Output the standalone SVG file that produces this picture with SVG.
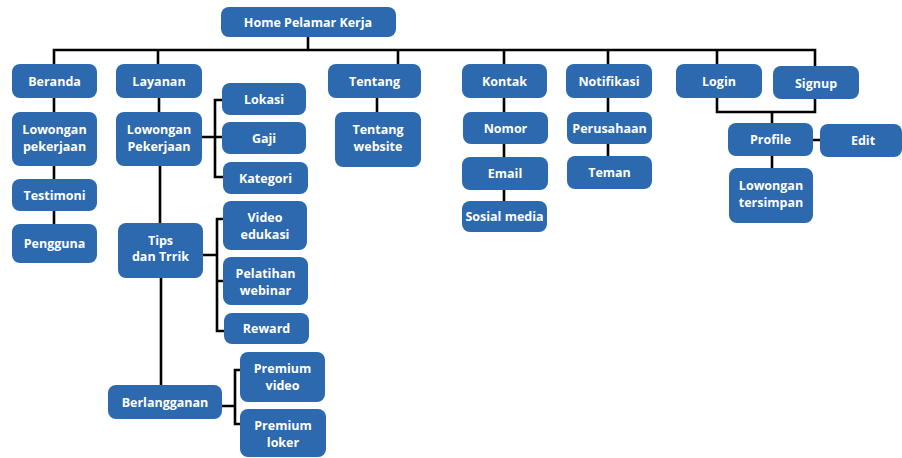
<svg xmlns="http://www.w3.org/2000/svg" width="902" height="458" viewBox="0 0 902 458">
<style>
.n rect{fill:#2c69ae;rx:8;ry:8}
.n text{fill:#fff;font-family:"Open Sans","Liberation Sans",sans-serif;font-weight:700;font-size:12.5px;text-anchor:middle}
#edges path{fill:none;stroke:#000;stroke-width:2.6}
</style>
<rect width="902" height="458" fill="#fff"/>
<g id="edges">
<path d="M308 37V50M54 64V50H815V66M158 50V64M398 50V64M504 50V64M608 50V64M717 50V64"/>
<path d="M54 98V112M54 166V179M54 211V224"/>
<path d="M159 98V112M160 166V223M161 278V385"/>
<path d="M202 137H215M222 100H215V177H223M215 137H222"/>
<path d="M203 255H217M223 219H217V331H224M217 281H223"/>
<path d="M222 406H235M240 370H235V424H240"/>
<path d="M377 98V112"/>
<path d="M504 98V112M504 144V157M504 190V201"/>
<path d="M608 98V112M608 144V156"/>
<path d="M717 98V112H815V99M772 112V123M813 140H820M772 155V168"/>
</g>
<g id="home" class="n"><rect x="221" y="7" width="175" height="30"/><text x="308" y="26.5">Home Pelamar Kerja</text></g>
<g id="beranda" class="n"><rect x="12" y="64" width="85" height="34"/><text x="54.5" y="85.5">Beranda</text></g>
<g id="lowongan1" class="n"><rect x="12" y="112" width="85" height="54"/><text x="54.5" y="134">Lowongan</text><text x="54.5" y="151">pekerjaan</text></g>
<g id="testimoni" class="n"><rect x="12" y="179" width="85" height="32"/><text x="54.5" y="199.5">Testimoni</text></g>
<g id="pengguna" class="n"><rect x="12" y="224" width="85" height="39"/><text x="54.5" y="247.5">Pengguna</text></g>
<g id="layanan" class="n"><rect x="116" y="64" width="86" height="34"/><text x="159" y="85.5">Layanan</text></g>
<g id="lowongan2" class="n"><rect x="116" y="112" width="86" height="54"/><text x="159" y="134">Lowongan</text><text x="159" y="151">Pekerjaan</text></g>
<g id="lokasi" class="n"><rect x="222" y="83" width="84" height="32"/><text x="264" y="103.5">Lokasi</text></g>
<g id="gaji" class="n"><rect x="222" y="122" width="84" height="32"/><text x="264" y="142.5">Gaji</text></g>
<g id="kategori" class="n"><rect x="223" y="162" width="85" height="32"/><text x="265.5" y="182.5">Kategori</text></g>
<g id="tips" class="n"><rect x="118" y="223" width="85" height="55"/><text x="160.5" y="244.5">Tips</text><text x="160.5" y="261">dan Trrik</text></g>
<g id="video" class="n"><rect x="223" y="201" width="84" height="49"/><text x="265" y="222">Video</text><text x="265" y="239">edukasi</text></g>
<g id="pelatihan" class="n"><rect x="223" y="257" width="85" height="48"/><text x="265.5" y="278">Pelatihan</text><text x="265.5" y="295">webinar</text></g>
<g id="reward" class="n"><rect x="224" y="313" width="85" height="31"/><text x="266.5" y="333">Reward</text></g>
<g id="berlangganan" class="n"><rect x="108" y="385" width="114" height="34"/><text x="165" y="406.5">Berlangganan</text></g>
<g id="pvideo" class="n"><rect x="240" y="352" width="85" height="50"/><text x="282.5" y="373">Premium</text><text x="282.5" y="390">video</text></g>
<g id="ploker" class="n"><rect x="240" y="409" width="86" height="48"/><text x="283" y="430">Premium</text><text x="283" y="447">loker</text></g>
<g id="tentang" class="n"><rect x="328" y="64" width="93" height="34"/><text x="374.5" y="85.5">Tentang</text></g>
<g id="tentangweb" class="n"><rect x="335" y="112" width="86" height="55"/><text x="378" y="134">Tentang</text><text x="378" y="151">website</text></g>
<g id="kontak" class="n"><rect x="462" y="64" width="85" height="34"/><text x="504.5" y="85.5">Kontak</text></g>
<g id="nomor" class="n"><rect x="463" y="112" width="85" height="32"/><text x="505.5" y="132.5">Nomor</text></g>
<g id="email" class="n"><rect x="462" y="157" width="86" height="33"/><text x="505" y="178">Email</text></g>
<g id="sosial" class="n"><rect x="462" y="201" width="85" height="31"/><text x="504.5" y="221">Sosial media</text></g>
<g id="notifikasi" class="n"><rect x="566" y="64" width="86" height="34"/><text x="609" y="85.5">Notifikasi</text></g>
<g id="perusahaan" class="n"><rect x="567" y="112" width="85" height="32"/><text x="609.5" y="132.5">Perusahaan</text></g>
<g id="teman" class="n"><rect x="567" y="156" width="85" height="33"/><text x="609.5" y="177">Teman</text></g>
<g id="login" class="n"><rect x="676" y="64" width="86" height="34"/><text x="719" y="85.5">Login</text></g>
<g id="signup" class="n"><rect x="773" y="66" width="86" height="33"/><text x="816" y="87.5">Signup</text></g>
<g id="profile" class="n"><rect x="728" y="123" width="85" height="33"/><text x="770.5" y="144">Profile</text></g>
<g id="edit" class="n"><rect x="820" y="124" width="82" height="33"/><text x="863" y="145">Edit</text></g>
<g id="tersimpan" class="n"><rect x="729" y="168" width="84" height="55"/><text x="771" y="190">Lowongan</text><text x="771" y="207">tersimpan</text></g>
</svg>
